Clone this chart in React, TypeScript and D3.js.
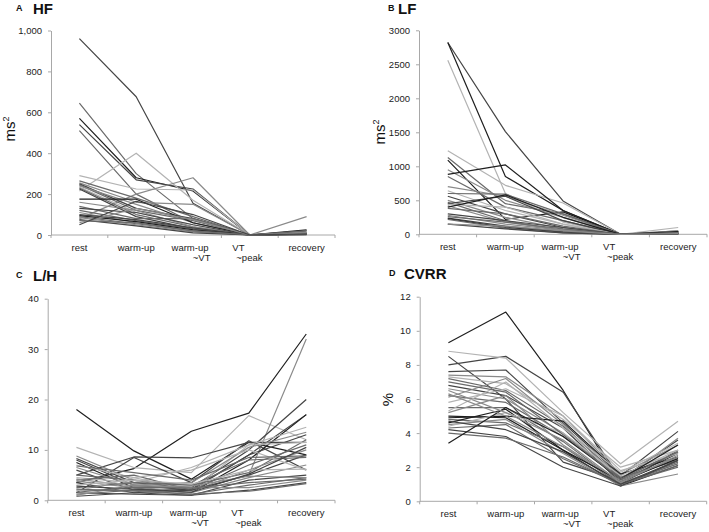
import { useEffect, useRef } from "react";
import * as d3 from "d3";

const stages = ["rest", "warm-up", "warm-up~VT", "VT~peak", "recovery"];

// one row per subject: rest, warm-up, warm-up~VT, VT~peak, recovery
const hfSeries = [
  [960, 676, 155, 0, 10],
  [645, 300, 80, 0, 5],
  [570, 280, 215, 0, 25],
  [540, 270, 225, 0, 20],
  [510, 200, 60, 0, 5],
  [290, 225, 220, 0, 10],
  [215, 400, 170, 0, 5],
  [80, 200, 280, 0, 90],
  [265, 180, 90, 0, 10],
  [255, 160, 150, 0, 8],
  [250, 130, 80, 0, 5],
  [245, 120, 70, 0, 5],
  [240, 150, 60, 0, 5],
  [235, 110, 50, 0, 4],
  [230, 100, 40, 0, 3],
  [225, 90, 30, 0, 5],
  [175, 175, 60, 0, 5],
  [160, 120, 40, 0, 5],
  [140, 80, 80, 0, 20],
  [130, 110, 50, 0, 5],
  [120, 70, 30, 0, 4],
  [110, 60, 20, 0, 3],
  [100, 75, 35, 0, 5],
  [95, 65, 25, 0, 4],
  [90, 55, 20, 0, 3],
  [85, 50, 15, 0, 2],
  [75, 45, 10, 0, 2],
  [70, 60, 20, 0, 5],
  [60, 130, 75, 0, 10],
  [50, 165, 100, 0, 5],
];

const lfSeries = [
  [2820, 1510, 490, 0, 30],
  [2820, 850, 350, 0, 40],
  [2560, 600, 180, 0, 20],
  [1230, 720, 460, 0, 100],
  [1130, 450, 300, 0, 50],
  [1090, 220, 330, 0, 30],
  [950, 500, 250, 0, 20],
  [880, 1020, 350, 0, 40],
  [850, 400, 200, 0, 30],
  [700, 560, 280, 0, 50],
  [640, 350, 150, 0, 20],
  [600, 590, 300, 0, 30],
  [560, 300, 100, 0, 10],
  [500, 250, 80, 0, 10],
  [470, 200, 50, 0, 5],
  [450, 560, 200, 0, 30],
  [440, 400, 150, 0, 20],
  [420, 180, 60, 0, 10],
  [400, 580, 250, 0, 40],
  [380, 300, 120, 0, 20],
  [300, 200, 100, 0, 10],
  [280, 150, 60, 0, 10],
  [260, 180, 80, 0, 20],
  [240, 120, 40, 0, 10],
  [230, 100, 30, 0, 5],
  [220, 90, 20, 0, 5],
  [150, 80, 20, 0, 5],
  [150, 120, 50, 0, 10],
];

const lhSeries = [
  [18, 9.8, 4.2, 11.5, 9],
  [3.5, 6.3, 13.7, 17.3, 33],
  [10.5, 6.5, 5.5, 16.8, 12],
  [5, 8.6, 8.4, 11.5, 11.5],
  [1.5, 8.5, 3.5, 11.8, 6],
  [8.8, 4, 2, 5, 32],
  [8.3, 3.5, 2.5, 10, 20],
  [8, 3, 2, 9, 17],
  [7.5, 2.5, 1.5, 8, 17],
  [7, 4.5, 2, 11, 14.5],
  [6.5, 3, 3.5, 10.5, 13.5],
  [6, 2, 2.2, 9, 13],
  [5, 4, 3, 5.5, 12],
  [4.5, 3.5, 6.5, 11, 11.5],
  [4, 5, 2, 7, 11],
  [3.8, 2.5, 1.8, 6, 10],
  [3.5, 1.5, 2, 5, 9],
  [2.5, 3.5, 3, 8, 8.5],
  [2, 2, 1.5, 4.5, 7],
  [1.8, 4.5, 6, 10, 6],
  [1.5, 1.2, 1, 4, 5],
  [1.2, 2, 1.2, 3, 4.5],
  [1, 3, 2.5, 2.5, 4],
  [0.8, 1.5, 1, 2, 3.5],
  [2.2, 1.8, 1.2, 1.8, 3.3],
  [4.2, 2.8, 2.8, 4.8, 4.5],
  [3, 4, 3.2, 6, 6.2],
  [6.8, 5.5, 4, 8.5, 8.8],
  [2.8, 2.2, 1.6, 5.2, 10.5],
  [1.6, 2.6, 2.4, 3.5, 4.2],
];

const cvrrSeries = [
  [9.3, 11.1, 6.5, 1.0, 3.0],
  [8.0, 8.5, 6.4, 1.3, 3.6],
  [8.8, 8.4, 5.2, 2.2, 4.7],
  [8.5, 6.0, 2.3, 1.2, 2.8],
  [7.6, 7.7, 4.6, 1.5, 4.1],
  [7.4, 7.3, 5.0, 1.6, 3.3],
  [7.3, 6.9, 4.8, 2.0, 3.0],
  [7.2, 6.5, 4.4, 1.4, 2.9],
  [6.8, 6.2, 4.3, 1.1, 2.6],
  [6.6, 6.0, 4.0, 1.3, 2.5],
  [6.2, 5.8, 3.8, 1.4, 2.4],
  [6.1, 7.2, 4.5, 1.2, 3.7],
  [5.8, 6.6, 5.0, 1.8, 2.8],
  [5.5, 5.5, 3.5, 1.0, 2.3],
  [5.2, 6.2, 3.3, 1.1, 2.2],
  [5.0, 4.9, 3.0, 0.9, 2.1],
  [4.9, 5.0, 4.7, 1.6, 2.6],
  [4.8, 4.6, 3.2, 1.0, 2.0],
  [4.6, 5.4, 3.0, 1.2, 2.5],
  [4.5, 4.8, 2.8, 0.9, 1.6],
  [4.4, 5.2, 4.0, 1.5, 3.0],
  [4.3, 4.5, 2.5, 1.0, 2.2],
  [4.2, 3.8, 2.0, 0.9, 2.4],
  [4.0, 3.7, 2.6, 1.0, 2.1],
  [3.4, 5.5, 3.8, 1.3, 3.3],
  [6.5, 5.2, 3.6, 1.1, 2.7],
  [5.3, 7.0, 4.3, 1.7, 3.4],
  [7.0, 6.4, 3.9, 1.3, 2.9],
  [4.7, 4.2, 2.9, 1.0, 2.4],
  [6.3, 5.0, 3.2, 1.2, 2.6],
];

const hfTicks = [0, 200, 400, 600, 800, 1000];
const lfTicks = [0, 500, 1000, 1500, 2000, 2500, 3000];
const lhTicks = [0, 10, 20, 30, 40];
const cvrrTicks = [0, 2, 4, 6, 8, 10, 12];

// grey tone per subject line (index into palette)
const palette = ["#1f1f1f", "#454545", "#6a6a6a", "#8a8a8a", "#b3b3b3"];
const hfTones = [1, 2, 0, 1, 2, 4, 4, 3, 2, 3, 1, 2, 3, 4, 2, 1, 0, 3, 2, 1, 2, 3, 1, 0, 2, 3, 1, 2, 3, 1];
const lfTones = [1, 0, 4, 4, 2, 0, 3, 0, 2, 3, 4, 2, 1, 3, 2, 1, 4, 3, 0, 2, 1, 3, 2, 1, 0, 2, 1, 3];
const lhTones = [0, 0, 4, 1, 1, 3, 1, 1, 0, 4, 3, 1, 2, 4, 2, 3, 1, 2, 3, 4, 1, 2, 3, 1, 2, 3, 4, 2, 1, 2];
const cvrrTones = [0, 1, 4, 1, 1, 3, 4, 2, 1, 3, 2, 3, 4, 2, 3, 0, 0, 2, 0, 3, 4, 2, 1, 2, 0, 3, 4, 2, 1, 3];

const FONT = "'Liberation Sans', Arial, sans-serif";

type Panel = {
  letter: string;
  title: string;
  series: number[][];
  tones: number[];
  ticks: number[];
  fmt: (d: number) => string;
  yLabel: string | null;
  sup: boolean;
  box: { left: number; right: number; top: number; bottom: number };
  titleX: number;
  titleGap: number;
  titleY: number;
  yLabelX: number;
  yLabelY: number;
};

const panels: Panel[] = [
  {
    letter: "A", title: "HF", series: hfSeries, tones: hfTones, ticks: hfTicks, fmt: d3.format(","),
    yLabel: "ms", sup: true,
    box: { left: 51, right: 335, top: 30.5, bottom: 235 },
    titleX: 16, titleGap: 17, titleY: 0, yLabelX: 10, yLabelY: 129,
  },
  {
    letter: "B", title: "LF", series: lfSeries, tones: lfTones, ticks: lfTicks, fmt: d3.format("d"),
    yLabel: "ms", sup: true,
    box: { left: 419, right: 707, top: 30.3, bottom: 234.3 },
    titleX: 388, titleGap: 10, titleY: 0, yLabelX: 380, yLabelY: 132,
  },
  {
    letter: "C", title: "L/H", series: lhSeries, tones: lhTones, ticks: lhTicks, fmt: d3.format("d"),
    yLabel: null, sup: false,
    box: { left: 47.7, right: 335, top: 298.7, bottom: 500.3 },
    titleX: 16, titleGap: 17, titleY: 267, yLabelX: 0, yLabelY: 0,
  },
  {
    letter: "D", title: "CVRR", series: cvrrSeries, tones: cvrrTones, ticks: cvrrTicks, fmt: d3.format("d"),
    yLabel: "%", sup: false,
    box: { left: 419.7, right: 706.7, top: 296.7, bottom: 501.3 },
    titleX: 389, titleGap: 15, titleY: 265, yLabelX: 387.5, yLabelY: 399.5,
  },
];

export default function App() {
  const svgRef = useRef<SVGSVGElement | null>(null);

  useEffect(() => {
    if (!svgRef.current) return;
    const svg = d3.select(svgRef.current);
    svg.selectAll("*").remove();

    panels.forEach((p) => {
      const { left, right, top, bottom } = p.box;
      const g = svg.append("g");
      const band = d3.scaleBand<string>().domain(stages).range([left, right]);
      const x = d3.scalePoint<string>().domain(stages).range([left, right]).padding(0.5);
      const maxTick = p.ticks[p.ticks.length - 1];
      const y = d3.scaleLinear().domain([0, maxTick]).range([bottom, top]);

      // title
      g.append("text")
        .attr("x", p.titleX).attr("y", p.titleY + 11)
        .attr("font-family", FONT).attr("font-weight", "bold").attr("font-size", 9)
        .attr("fill", "#111").text(p.letter);
      g.append("text")
        .attr("x", p.titleX + p.titleGap).attr("y", p.titleY + 13.5)
        .attr("font-family", FONT).attr("font-weight", "bold").attr("font-size", 15)
        .attr("fill", "#111").text(p.title);

      // y axis
      g.append("g")
        .attr("transform", `translate(${left},0)`)
        .call(d3.axisLeft(y).tickValues(p.ticks).tickFormat((d) => p.fmt(d as number)).tickSizeInner(3).tickSizeOuter(0).tickPadding(6))
        .call((sel) => sel.select(".domain").attr("stroke", "#a8a8a8"))
        .call((sel) => sel.selectAll(".tick line").attr("stroke", "#a8a8a8"))
        .call((sel) => sel.selectAll("text").attr("fill", "#222").attr("font-size", 9.5).attr("font-family", FONT));

      g.append("line")
        .attr("x1", left).attr("x2", left).attr("y1", bottom).attr("y2", bottom + 3)
        .attr("stroke", "#a8a8a8");

      // x axis with tick marks on the band edges
      g.append("line")
        .attr("x1", left).attr("x2", right).attr("y1", bottom).attr("y2", bottom)
        .attr("stroke", "#a8a8a8");
      const bounds = stages.map((s) => band(s) as number).concat([right]);
      g.append("g")
        .selectAll("line")
        .data(bounds.slice(1))
        .join("line")
        .attr("x1", (d) => d).attr("x2", (d) => d)
        .attr("y1", bottom).attr("y2", bottom + 3)
        .attr("stroke", "#a8a8a8");

      // x labels
      const lab = g.append("g").attr("font-family", FONT).attr("font-size", 9.5).attr("fill", "#222");
      stages.forEach((s) => {
        const cx = x(s) as number;
        const y1 = bottom + 15.5;
        const y2 = bottom + 25.5;
        if (s === "warm-up~VT") {
          lab.append("text").attr("x", cx - 3).attr("y", y1).attr("text-anchor", "middle").text("warm-up");
          lab.append("text").attr("x", cx + 17.5).attr("y", y2).attr("text-anchor", "end").text("~VT");
        } else if (s === "VT~peak") {
          lab.append("text").attr("x", cx - 17.5).attr("y", y1).attr("text-anchor", "start").text("VT");
          lab.append("text").attr("x", cx - 13.5).attr("y", y2).attr("text-anchor", "start").text("~peak");
        } else {
          lab.append("text").attr("x", cx).attr("y", y1).attr("text-anchor", "middle").text(s);
        }
      });

      // y label
      if (p.yLabel) {
        const t = g.append("text")
          .attr("transform", `translate(${p.yLabelX + 5},${p.yLabelY}) rotate(-90)`)
          .attr("text-anchor", "middle")
          .attr("font-family", FONT).attr("font-size", 15).attr("fill", "#111");
        t.append("tspan").text(p.yLabel);
        if (p.sup) t.append("tspan").attr("font-size", 9).attr("dy", -6).text("2");
      }

      // subject lines
      const line = d3.line<number>()
        .x((_, i) => x(stages[i]) as number)
        .y((d) => y(d));
      g.append("g")
        .selectAll("path")
        .data(p.series)
        .join("path")
        .attr("d", (d) => line(d))
        .attr("fill", "none")
        .attr("stroke", (_, i) => palette[p.tones[i]])
        .attr("stroke-width", 1.2)
        .attr("stroke-linejoin", "round");
    });
  }, []);

  return (
    <svg
      ref={svgRef}
      width={709}
      height={532}
      style={{ position: "absolute", left: 0, top: 0, background: "#fff" }}
    />
  );
}
